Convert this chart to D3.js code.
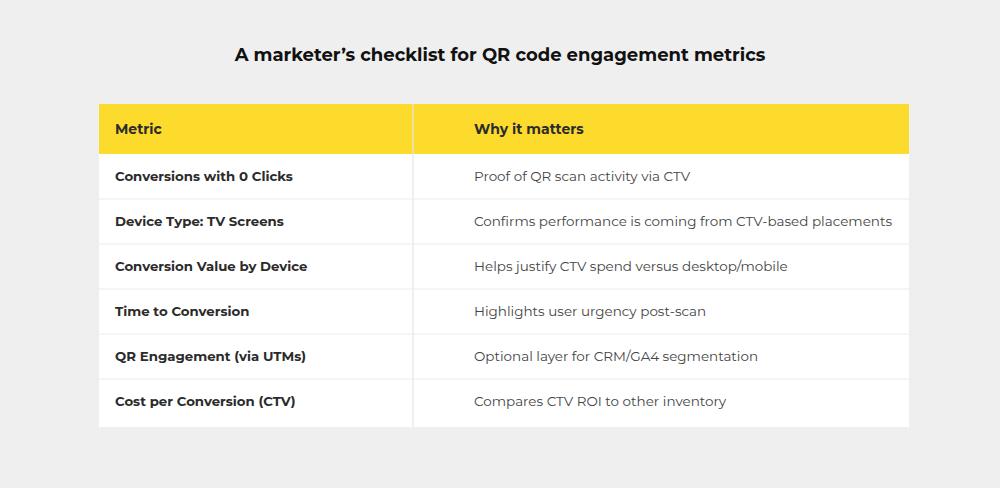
<!DOCTYPE html>
<html><head><meta charset="utf-8">
<script src="https://cdn.jsdelivr.net/npm/d3@7"></script>
<style>body{margin:0;background:#efefef}</style></head>
<body><svg id="c" width="1000" height="488"></svg>
<script>
const title = "A marketer’s checklist for QR code engagement metrics";
const headers = ["Metric", "Why it matters"];
const metrics = ["Conversions with 0 Clicks","Device Type: TV Screens","Conversion Value by Device","Time to Conversion","QR Engagement (via UTMs)","Cost per Conversion (CTV)"];
const reasons = ["Proof of QR scan activity via CTV","Confirms performance is coming from CTV-based placements","Helps justify CTV spend versus desktop/mobile","Highlights user urgency post-scan","Optional layer for CRM/GA4 segmentation","Compares CTV ROI to other inventory"];

const svg = d3.select("#c");
const font = "Montserrat, Inter, 'Open Sans', sans-serif";
svg.append("rect").attr("width",1000).attr("height",488).attr("fill","#efefef");
svg.append("text").attr("x",500).attr("y",61).attr("text-anchor","middle")
  .attr("font-family",font).attr("font-weight",700).attr("font-size",18).attr("fill","#111").text(title);

const x0=99,x1=909,xd=413,hTop=104,hBot=154,bottom=427,rowH=45;
const y = d3.scaleLinear().domain([0,1]).range([hBot,hBot+rowH]);
svg.append("rect").attr("x",x0).attr("y",hTop).attr("width",x1-x0).attr("height",hBot-hTop).attr("fill","#fddb2d");
svg.append("rect").attr("x",x0).attr("y",hBot).attr("width",x1-x0).attr("height",bottom-hBot).attr("fill","#fff");
svg.append("line").attr("x1",xd).attr("x2",xd).attr("y1",hTop).attr("y2",bottom).attr("stroke","#e6e6e6").attr("stroke-width",1.2);
svg.selectAll(".hl").data(d3.range(1,metrics.length)).join("line")
  .attr("x1",x0).attr("x2",x1).attr("y1",i=>y(i)).attr("y2",i=>y(i)).attr("stroke","#ececec").attr("stroke-width",1.2);
[115,474].forEach((xx,i)=>svg.append("text").attr("x",xx).attr("y",(hTop+hBot)/2+5)
  .attr("font-family",font).attr("font-weight",700).attr("font-size",14).attr("fill","#2b2b2b").text(headers[i]));
svg.selectAll(".m").data(metrics).join("text").attr("x",115).attr("y",(d,i)=>y(i+0.5)+4.5)
  .attr("font-family",font).attr("font-weight",700).attr("font-size",13.3).attr("fill","#2b2b2b").text(d=>d);
svg.selectAll(".r").data(reasons).join("text").attr("x",474).attr("y",(d,i)=>y(i+0.5)+4.5)
  .attr("font-family",font).attr("font-size",13.5).attr("fill","#444").text(d=>d);
</script></body></html>
